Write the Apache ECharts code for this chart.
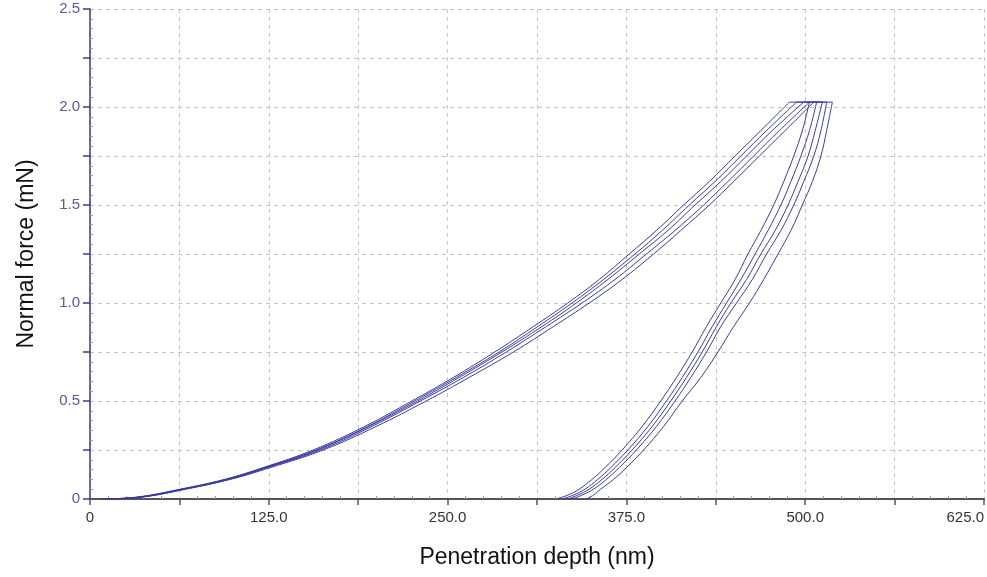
<!DOCTYPE html>
<html>
<head>
<meta charset="utf-8">
<script src="https://cdn.jsdelivr.net/npm/echarts@6/dist/echarts.min.js"></script>
<style>
  html, body { margin: 0; padding: 0; background: #fff; }
  #chart { width: 987px; height: 577px; }
</style>
</head>
<body>
<div id="chart"></div>
<script>
// ---------- data ----------
// loading branch: force levels (mN) and depth (nm) of each of the 5 cycles
const loadForce = [0, 0.01, 0.05, 0.10, 0.16, 0.25, 0.37, 0.5, 0.62, 0.75, 0.88, 1.0, 1.12, 1.25, 1.37, 1.5, 1.62, 1.75, 1.88, 2.025];
const loadDepth = [
  [8, 33, 63, 94, 121, 156, 192, 225, 254, 283, 310, 334, 356, 377, 396, 415, 433, 451, 469, 489],
  [9, 34, 64, 95, 122, 158, 194, 227, 256, 286, 313, 337, 359, 381, 400, 419, 437, 455, 473, 494],
  [10, 35, 65, 96, 123, 159, 195, 229, 258, 288, 316, 340, 362, 384, 404, 423, 441, 459, 477, 499],
  [11, 36, 66, 97, 124, 161, 197, 231, 261, 291, 319, 344, 367, 389, 409, 429, 446, 464, 482, 503],
  [12, 37, 67, 98, 126, 163, 200, 235, 265, 296, 324, 349, 372, 394, 413, 433, 450, 468, 486, 506]
];
// hold at peak force
const holdForce = 2.025;
// unloading branch: force levels going down, depth of each cycle
const unloadForce = [2.025, 1.88, 1.75, 1.62, 1.5, 1.37, 1.25, 1.12, 1.0, 0.88, 0.75, 0.62, 0.5, 0.37, 0.25, 0.16, 0.1, 0.05, 0.02, 0];
const unloadDepth = [
  [503, 498, 492, 485, 478, 469, 460, 451, 441, 431, 421, 410, 399, 386, 372, 360, 351, 342, 334, 326],
  [508, 503, 497, 490, 483, 474, 465, 455, 445, 435, 425, 414, 403, 390, 376, 364, 355, 346, 338, 330],
  [512, 507, 502, 495, 488, 479, 469, 459, 448, 438, 428, 417, 406, 393, 379, 367, 358, 349, 341, 334],
  [515, 511, 506, 499, 492, 483, 473, 463, 452, 441, 431, 420, 409, 396, 382, 370, 361, 352, 344, 337],
  [519, 515, 511, 505, 498, 490, 481, 471, 461, 450, 439, 427, 414, 401, 387, 375, 366, 357, 352, 347]
];
const xLabels = ['0', '125.0', '250.0', '375.0', '500.0', '625.0'];
const yLabels = ['0', '0.5', '1.0', '1.5', '2.0', '2.5'];

// ---------- build series ----------
const LINE_COLOR = '#3b3b9e';
const lineSeries = (pts, smooth) => ({
  type: 'line',
  data: pts,
  showSymbol: false,
  smooth: smooth,
  lineStyle: { color: LINE_COLOR, width: 1 },
  silent: true,
  animation: false
});

const series = [];
loadDepth.forEach((ld, i) => {
  const ud = unloadDepth[i];
  series.push(lineSeries(ld.map((x, k) => [x, loadForce[k]]), 0.4));
  series.push(lineSeries([[ld[ld.length - 1], holdForce], [ud[0], holdForce]], false));
  series.push(lineSeries(ud.map((x, k) => [x, unloadForce[k]]), 0.4));
});

const LABEL_FONT = '"Liberation Sans Narrow", "Liberation Sans", Arial, sans-serif';

const option = {
  backgroundColor: '#fff',
  animation: false,
  grid: { left: 90, right: 2, top: 9, bottom: 78 },
  xAxis: {
    type: 'value',
    min: 0,
    max: 625,
    interval: 62.5,
    name: 'Penetration depth (nm)',
    nameLocation: 'middle',
    nameGap: 47,
    nameTextStyle: { fontFamily: 'Liberation Sans, Arial, sans-serif', fontSize: 23, color: '#111' },
    axisLine: { show: true, onZero: false, lineStyle: { color: '#555', width: 2 } },
    axisTick: { show: true, length: 6, lineStyle: { color: '#555', width: 1.5 } },
    minorTick: { show: true, splitNumber: 5, length: -3, lineStyle: { color: '#999' } },
    axisLabel: {
      color: '#333',
      fontSize: 15,
      fontFamily: LABEL_FONT,
      margin: 11,
      alignMaxLabel: 'right',
      formatter: v => {
        const idx = Math.round(v / 125);
        return Math.abs(v - idx * 125) < 1e-6 ? xLabels[idx] : '';
      }
    },
    splitLine: { show: true, lineStyle: { color: '#c4c4c4', type: [4, 4], width: 1 } }
  },
  yAxis: {
    type: 'value',
    min: 0,
    max: 2.5,
    interval: 0.25,
    name: 'Normal force (mN)',
    nameLocation: 'middle',
    nameGap: 52,
    nameTextStyle: { fontFamily: 'Liberation Sans, Arial, sans-serif', fontSize: 23, color: '#111' },
    axisLine: { show: true, lineStyle: { color: '#3a3a8a', width: 1.5 } },
    axisTick: { show: true, length: 7, lineStyle: { color: '#3a3a8a', width: 1.5 } },
    minorTick: { show: true, splitNumber: 5, length: -3, lineStyle: { color: '#9a9ac0' } },
    axisLabel: {
      color: '#5a5a98',
      fontSize: 15,
      fontFamily: LABEL_FONT,
      margin: 10,
      formatter: v => {
        const idx = Math.round(v / 0.5);
        return Math.abs(v - idx * 0.5) < 1e-6 ? yLabels[idx] : '';
      }
    },
    splitLine: { show: true, lineStyle: { color: '#c4c4c4', type: [4, 4], width: 1 } }
  },
  series
};

const chart = echarts.init(document.getElementById('chart'), null, { renderer: 'canvas' });
chart.setOption(option);
</script>
</body>
</html>
